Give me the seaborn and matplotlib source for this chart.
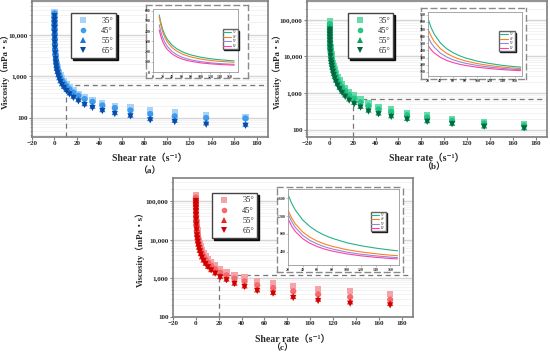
import numpy as np
import pandas as pd
import seaborn as sns
import matplotlib.pyplot as plt
from matplotlib.ticker import FuncFormatter, LogLocator, NullFormatter

sns.set_theme(style='white')
plt.rcParams['font.family'] = ['Liberation Serif', 'Noto Sans CJK SC', 'DejaVu Sans']
plt.rcParams['font.weight'] = 'bold'

temps = ['35°', '45°', '55°', '65°']
markers = ['s', 'o', '^', 'v']

# shear rates (1/s), shared by the three panels
shear = [0.016, 0.025, 0.04, 0.063, 0.1, 0.16, 0.25, 0.4, 0.63, 1.0,
         1.35, 1.7, 2.1, 2.7, 3.4, 4.3, 5.3, 6.7, 8.5, 10.7,
         13.4, 16.9, 21.3, 26.8, 33.8, 42.6, 53.7, 67.6, 85.2, 107, 135, 170]

# viscosity (mPa·s), panel (a)
visc_a = [
    [36000, 30000, 24500, 19500, 15000, 11500, 8800, 6600, 4900, 3600, 2900, 2400, 2000, 1700, 1450, 1250,
     1050, 900, 780, 670, 560, 461, 384, 319, 275, 233, 198, 180, 158, 137, 120, 105],
    [33000, 27000, 22000, 17500, 13500, 10300, 7900, 5900, 4400, 3250, 2600, 2150, 1800, 1520, 1300, 1100,
     940, 800, 690, 590, 495, 412, 344, 286, 246, 201, 174, 153, 125, 110, 100, 98],
    [30000, 24500, 20000, 15800, 12200, 9300, 7100, 5300, 3950, 2900, 2300, 1900, 1600, 1350, 1130, 960,
     810, 690, 590, 500, 415, 344, 286, 229, 198, 164, 139, 120, 100, 91, 79, 73],
    [28000, 22500, 18300, 14500, 11200, 8500, 6500, 4850, 3600, 2650, 2100, 1730, 1450, 1220, 1030, 870,
     730, 620, 530, 445, 370, 303, 251, 205, 174, 147, 125, 110, 88, 80, 69, 65],
]
# panel (b)
visc_b = [
    [92000, 80000, 68000, 57000, 47000, 38000, 30000, 23500, 18000, 13500, 11400, 9600, 8000, 6600, 5400, 4400,
     3550, 2830, 2250, 1780, 1400, 1100, 865, 675, 525, 427, 362, 294, 254, 198, 168, 145],
    [76000, 66000, 56000, 47000, 38800, 31300, 24800, 19400, 14800, 11100, 9400, 7900, 6600, 5450, 4450, 3620,
     2920, 2330, 1850, 1460, 1150, 900, 720, 570, 445, 362, 313, 254, 220, 179, 152, 133],
    [62000, 53500, 45500, 38000, 31500, 25400, 20100, 15700, 12000, 9000, 7600, 6400, 5350, 4420, 3610, 2940,
     2370, 1890, 1500, 1180, 930, 730, 585, 455, 362, 300, 254, 215, 186, 158, 134, 120],
    [53000, 46000, 39100, 32700, 27100, 21900, 17300, 13500, 10300, 7750, 6550, 5500, 4600, 3800, 3110, 2530,
     2040, 1630, 1290, 1020, 800, 630, 505, 410, 320, 270, 229, 194, 168, 145, 123, 112],
]
# panel (c)
visc_c = [
    [145000, 131000, 116000, 100000, 83000, 66000, 51000, 38500, 28500, 20600, 17200, 14300, 11900, 9800, 8100, 6700,
     5500, 4550, 3760, 3120, 2600, 2160, 1707, 1459, 1245, 1081, 870, 757, 632, 541, 461, 401],
    [122000, 110000, 97000, 83000, 68500, 54500, 42000, 31700, 23400, 16900, 14000, 11600, 9600, 7940, 6560, 5420,
     4480, 3700, 3060, 2540, 2110, 1750, 1399, 1194, 983, 835, 658, 563, 461, 385, 329, 281],
    [107000, 96000, 84000, 71000, 58000, 46000, 35300, 26500, 19500, 14000, 11600, 9600, 7940, 6560, 5420, 4480,
     3700, 3060, 2530, 2090, 1730, 1430, 1149, 983, 772, 658, 519, 443, 349, 298, 254, 230],
    [99000, 89000, 78000, 66000, 54000, 42700, 32700, 24500, 18000, 12900, 10700, 8830, 7300, 6040, 4990, 4120,
     3410, 2820, 2330, 1930, 1600, 1320, 1060, 888, 713, 596, 470, 401, 310, 259, 221, 200],
]

# inset curves
inset_x_a = [13, 16, 20, 25, 30, 40, 50, 60, 70, 80, 100, 120, 140, 160, 170]
inset_a = [
    [557, 490, 420, 360, 318, 262, 226, 200, 181, 166, 144, 130, 119, 112, 108],
    [540, 465, 395, 335, 293, 238, 203, 178, 160, 146, 126, 113, 104, 98, 95],
    [460, 400, 340, 288, 250, 200, 168, 146, 130, 118, 101, 90, 82, 77, 75],
    [410, 355, 300, 253, 220, 176, 148, 128, 114, 104, 89, 80, 73, 69, 67],
]
inset_x_bc = [20, 25, 30, 40, 50, 60, 70, 80, 100, 120, 140, 160, 170]
inset_b = [
    [850, 720, 630, 505, 425, 370, 328, 295, 248, 215, 190, 172, 165],
    [700, 600, 525, 425, 360, 314, 280, 253, 214, 186, 166, 150, 144],
    [590, 505, 445, 362, 308, 270, 242, 220, 187, 164, 147, 134, 128],
    [470, 410, 365, 302, 260, 230, 207, 189, 163, 144, 130, 119, 115],
]
inset_c = [
    [1680, 1480, 1330, 1110, 960, 850, 765, 700, 600, 530, 478, 435, 418],
    [1330, 1150, 1020, 840, 720, 635, 570, 520, 445, 392, 352, 320, 308],
    [1250, 1070, 940, 765, 650, 570, 508, 460, 390, 340, 305, 276, 265],
    [1135, 970, 850, 690, 585, 512, 456, 413, 350, 305, 272, 246, 236],
]

# zoomed region marked with dashed lines (shear rate, viscosity)
zoom_a = (10, 630)
zoom_b = (20, 690)
zoom_c = (20, 1190)

colors_a = ['#a9d2f7', '#3f9ceb', '#1a73d9', '#0a4ba6']
colors_b = ['#66dcaa', '#27c487', '#0aa063', '#04683f']
colors_c = ['#f5a3a8', '#f26b6f', '#ea2424', '#d10000']
line_colors = ['#23b38a', '#ff7f27', '#8c8cdb', '#ff3fa5']

W, H = 550, 356
fig = plt.figure(figsize=(W / 100, H / 100), dpi=100)


def rect(l, t, r, b):
    return [l / W, 1 - b / H, (r - l) / W, (b - t) / H]


def panel(main_px, visc, colors, ylim, zoom, legend_px, ylab_x, tag, tag_px,
          box_px, inset_px, ix_x, ix_y, ix_xlim, ix_ylim, ix_xticks, ix_yticks, ix_leg):
    ax = fig.add_axes(rect(*main_px))
    df = pd.DataFrame({'shear': np.tile(shear, 4),
                       'visc': np.concatenate(visc),
                       'temp': np.repeat(temps, len(shear))})
    sns.scatterplot(data=df, x='shear', y='visc', hue='temp', style='temp',
                    markers=markers, palette=colors, s=20, edgecolor='none',
                    ax=ax, zorder=3)
    ax.set_yscale('log')
    ax.set_ylim(ylim)
    ax.set_xlim(-20, 190)
    ax.set_xticks(range(-20, 181, 20))
    ax.yaxis.set_major_locator(LogLocator(base=10))
    ax.yaxis.set_minor_locator(LogLocator(base=10, subs=np.arange(2, 10)))
    ax.yaxis.set_major_formatter(FuncFormatter(lambda v, p: f'{v:,.0f}'))
    ax.yaxis.set_minor_formatter(NullFormatter())
    ax.grid(axis='y', which='major', color='#d6d6d6', lw=1.0)
    ax.grid(axis='y', which='minor', color='#eeeeee', lw=0.5)
    ax.set_axisbelow(True)
    zx, zy = zoom
    ax.plot([zx, zx], [ylim[0], zy], ls=(0, (4, 3)), color='#777777', lw=0.9, zorder=2)
    ax.plot([zx, 190], [zy, zy], ls=(0, (4, 3)), color='#777777', lw=0.9, zorder=2)
    for s in ax.spines.values():
        s.set_color('#7f7f7f')
        s.set_linewidth(1.2)
    ax.tick_params(axis='both', which='major', labelsize=5, length=2.2, width=0.8,
                   direction='out', color='#7f7f7f', pad=1.0, left=True, bottom=True)
    ax.tick_params(axis='y', which='minor', length=1.3, width=0.5, color='#9f9f9f', left=True)
    ax.set_xlabel('Shear rate（s⁻¹）', fontsize=7, fontweight='bold')
    ax.set_ylabel('Viscosity（mPa・s）', fontsize=6.3, fontweight='bold')
    ax.xaxis.set_label_coords(0.5, -0.125)
    ax.yaxis.set_label_coords(ylab_x, 0.5)
    handles, labels = ax.get_legend_handles_labels()
    ax.legend(handles, labels, loc='upper left',
              bbox_to_anchor=(legend_px[0] / W, 1 - legend_px[1] / H),
              bbox_transform=fig.transFigure, prop={'size': 6, 'weight': 'normal'},
              frameon=True, fancybox=False, edgecolor='#444444', framealpha=1,
              shadow={'color': 'black', 'ox': 1.5, 'oy': -1.5, 'alpha': 0.9},
              handletextpad=1.2, labelspacing=0.25, borderpad=0.4, markerscale=0.9)
    fig.text(tag_px[0] / W, 1 - tag_px[1] / H, tag, ha='center', va='center', fontsize=6.5)

    bx = fig.add_axes(rect(*box_px))
    bx.set_xticks([])
    bx.set_yticks([])
    bx.set_facecolor('white')
    for s in bx.spines.values():
        s.set_linestyle((0, (4, 3)))
        s.set_color('#8a8a8a')
        s.set_linewidth(1.0)

    ix = fig.add_axes(rect(*inset_px))
    dfi = pd.DataFrame({'x': np.tile(ix_x, 4),
                        'y': np.concatenate(ix_y),
                        'temp': np.repeat(temps, len(ix_x))})
    sns.lineplot(data=dfi, x='x', y='y', hue='temp', palette=line_colors, lw=0.8, ax=ix)
    ix.set_xlim(ix_xlim)
    ix.set_ylim(ix_ylim)
    ix.set_xticks(ix_xticks)
    ix.set_yticks(ix_yticks)
    ix.yaxis.set_major_formatter(FuncFormatter(lambda v, p: f'{v:,.0f}'))
    ix.set_xlabel('')
    ix.set_ylabel('')
    for s in ix.spines.values():
        s.set_color('#999999')
        s.set_linewidth(0.6)
    ix.tick_params(labelsize=2.8, length=1.2, width=0.4, pad=0.8, color='#999999',
                   left=True, bottom=True)
    h, l = ix.get_legend_handles_labels()
    ix.legend(h, l, loc='upper left', bbox_to_anchor=ix_leg, prop={'size': 2.2, 'weight': 'normal'},
              frameon=True, fancybox=False, edgecolor='#666666', framealpha=1,
              shadow={'color': 'black', 'ox': 0.8, 'oy': -0.8, 'alpha': 0.9},
              handlelength=2.6, handletextpad=0.5, labelspacing=0.15, borderpad=0.3)


panel((32, 1, 268, 137), visc_a, colors_a, (35, 65000), zoom_a, (67, 9), -0.095, '（a）', (149, 171),
      (146, 5, 248, 78), (153, 9, 238, 72), inset_x_a, inset_a, (0, 178), (0, 615),
      range(0, 161, 20), range(0, 601, 100), (0.80, 0.70))
panel((307, 1, 547, 137), visc_b, colors_b, (65, 320000), zoom_b, (344, 9), -0.105, '（b）', (434, 167),
      (421, 8, 526, 79), (428, 12, 522, 76), inset_x_bc, inset_b, (20, 172), (40, 940),
      range(20, 161, 20), range(100, 901, 100), (0.74, 0.72))
panel((173, 178, 413, 317), visc_c, colors_c, (100, 390000), zoom_c, (208, 189), -0.117, '（c）', (282, 348),
      (277, 187, 403, 272), (288, 189, 399, 265), inset_x_bc, inset_c, (20, 172), (100, 1800),
      range(20, 161, 20), range(400, 1601, 400), (0.73, 0.72))

fig.savefig('out.png', dpi=100)
